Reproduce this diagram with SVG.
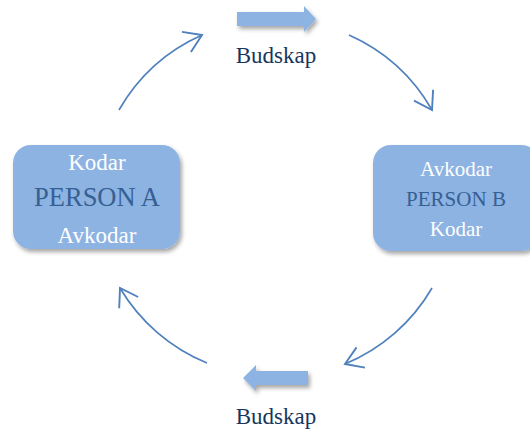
<svg xmlns="http://www.w3.org/2000/svg" width="530" height="430" viewBox="0 0 530 430">
  <style>
    .box { fill: #8DB3E2; filter: url(#shadow); }
    .block { fill: #8DB3E2; filter: url(#shadow); }
    .arc { fill: none; stroke: #4F81BD; stroke-width: 1.7; marker-end: url(#open); }
    text { font-family: 'Liberation Serif', 'DejaVu Serif', serif; text-anchor: middle; }
    .w { fill: #FFFFFF; }
    .d { fill: #376092; }
    .lbl { fill: #17365D; font-size: 23px; }
  </style>
  <defs>
    <filter id="shadow" x="-20%" y="-20%" width="140%" height="150%">
      <feDropShadow dx="2" dy="3" stdDeviation="2" flood-color="#000000" flood-opacity="0.35"/>
    </filter>
    <marker id="open" markerUnits="userSpaceOnUse" markerWidth="30" markerHeight="30" viewBox="-20 -15 30 30" refX="0" refY="0" orient="auto">
      <path d="M -17 -11 L 0 0 L -17 11" fill="none" stroke="#4F81BD" stroke-width="1.9"/>
    </marker>
  </defs>

  <!-- circular flow between the two parties -->
  <g id="connectors">
    <path class="arc" d="M 119 110 A 180 180 0 0 1 202 35"/>
    <path class="arc" d="M 349 35 A 180 180 0 0 1 432 110"/>
    <path class="arc" d="M 432 288 A 180 180 0 0 1 345 364"/>
    <path class="arc" d="M 207 363 A 180 180 0 0 1 120 288"/>
  </g>

  <!-- message going to B -->
  <g id="msg-top">
    <path class="block" d="M 237 12 L 304 12 L 304 6 L 316 19 L 304 32 L 304 26 L 237 26 Z"/>
    <text class="lbl" x="276" y="63">Budskap</text>
  </g>

  <!-- message going back to A -->
  <g id="msg-bottom">
    <path class="block" d="M 308 371 L 256 371 L 256 365 L 243 378 L 256 391 L 256 385 L 308 385 Z"/>
    <text class="lbl" x="276" y="424">Budskap</text>
  </g>

  <g id="person-a">
    <rect class="box" x="13" y="145" width="167" height="104" rx="18"/>
    <text class="w" x="97" y="170" font-size="23">Kodar</text>
    <text class="d" x="97" y="206" font-size="26.5">PERSON A</text>
    <text class="w" x="97" y="243" font-size="23">Avkodar</text>
  </g>

  <g id="person-b">
    <rect class="box" x="373" y="145" width="166" height="106" rx="18"/>
    <text class="w" x="456" y="176" font-size="21">Avkodar</text>
    <text class="d" x="456" y="206" font-size="21">PERSON B</text>
    <text class="w" x="456" y="236" font-size="21">Kodar</text>
  </g>
</svg>
